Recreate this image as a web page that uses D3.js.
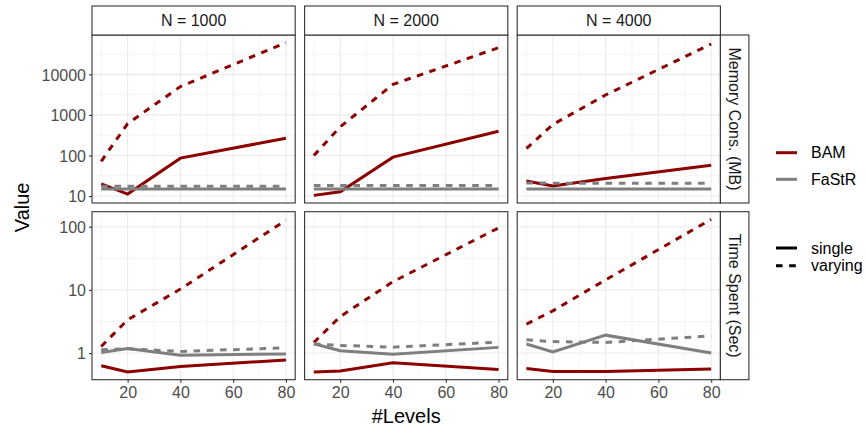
<!DOCTYPE html>
<html><head><meta charset="utf-8">
<script src="https://cdn.jsdelivr.net/npm/d3@7"></script>
<style>body{margin:0;background:#fff}svg{display:block}text{font-family:"Liberation Sans",Arial,sans-serif}</style>
</head><body><svg id="c" width="867" height="428"></svg>
<script>
// ---- data ----
const levels = [10, 20, 40, 80];
const sizes = ["N = 1000", "N = 2000", "N = 4000"];
const metrics = ["Memory Cons. (MB)", "Time Spent (Sec)"];
const methods = ["BAM", "FaStR"];
const modes = ["single", "varying"];
const xTicks = [20, 40, 60, 80];
const yTicksMemory = [10, 100, 1000, 10000];
const yTicksTime = [1, 10, 100];

// memory (MB), one array per N
const memBamSingle   = [[20, 11.2, 86, 266], [10.4, 12.8, 91, 395], [23.6, 17.8, 27, 57.5]];
const memBamVarying  = [[72, 611, 5000, 60500], [100, 508, 5660, 45400], [149, 580, 3100, 56000]];
const memFastrSingle = [[15, 15, 15, 15], [15, 15, 15, 15], [15, 15, 15, 15]];
const memFastrVarying= [[17.5, 17.5, 17.5, 17.5], [18.3, 18.3, 18.3, 18.3], [21, 20.8, 20.8, 20.8]];
// time (sec)
const timeBamSingle   = [[0.63, 0.50, 0.615, 0.776], [0.50, 0.52, 0.70, 0.55], [0.57, 0.51, 0.51, 0.56]];
const timeBamVarying  = [[1.27, 3.36, 10.3, 127], [1.47, 3.78, 13.5, 96], [2.87, 4.66, 14.4, 131]];
const timeFastrSingle = [[1.02, 1.18, 0.92, 0.97], [1.40, 1.09, 0.96, 1.23], [1.39, 1.04, 1.92, 1.0]];
const timeFastrVarying= [[1.13, 1.17, 1.06, 1.21], [1.40, 1.32, 1.24, 1.49], [1.62, 1.52, 1.47, 1.87]];

const seriesByMetric = [
  {BAM: {single: memBamSingle, varying: memBamVarying}, FaStR: {single: memFastrSingle, varying: memFastrVarying}},
  {BAM: {single: timeBamSingle, varying: timeBamVarying}, FaStR: {single: timeFastrSingle, varying: timeFastrVarying}}
];
const yTicksByMetric = [yTicksMemory, yTicksTime];

// ---- style / layout ----
const colors = {BAM: "#8B0000", FaStR: "#7F7F7F"};
const dash = {single: null, varying: "6.6,6.6"};
const lw = 3;
const panelLeft = 92, panelW = 203.2, colGap = 9.4;
const panelTop = 35, panelH = 168, rowGap = 8.7;
const stripH = 29, stripW = 28.5;
const border = "#333333", grid = "#EBEBEB";

const svg = d3.select("#c");

const x = d3.scaleLinear().domain([6.5, 83.5]);

function yScaleFor(m) {
  const all = [];
  methods.forEach(me => modes.forEach(mo => seriesByMetric[m][me][mo].forEach(a => a.forEach(v => all.push(Math.log10(v))))));
  const lo = d3.min(all), hi = d3.max(all), pad = (hi - lo) * 0.05;
  return d3.scaleLog().domain([Math.pow(10, lo - pad), Math.pow(10, hi + pad)]);
}

metrics.forEach((metric, r) => {
  const top = panelTop + r * (panelH + rowGap);
  const y = yScaleFor(r).range([top + panelH, top]);
  const [dlo, dhi] = y.domain().map(Math.log10);
  const majors = yTicksByMetric[r];
  const minors = [];
  for (let k = Math.floor(dlo) - 1; k <= Math.ceil(dhi) + 1; k++) {
    const v = k + 0.5;
    if (v > dlo && v < dhi) minors.push(Math.pow(10, v));
  }

  sizes.forEach((sz, c) => {
    const left = panelLeft + c * (panelW + colGap);
    x.range([left, left + panelW]);
    const g = svg.append("g");
    g.append("rect").attr("x", left).attr("y", top).attr("width", panelW).attr("height", panelH).attr("fill", "#fff");
    // minor grid
    g.selectAll(null).data(minors).join("line")
      .attr("x1", left).attr("x2", left + panelW).attr("y1", d => y(d)).attr("y2", d => y(d))
      .attr("stroke", grid).attr("stroke-width", 0.55);
    g.selectAll(null).data([10, 30, 50, 70]).join("line")
      .attr("y1", top).attr("y2", top + panelH).attr("x1", d => x(d)).attr("x2", d => x(d))
      .attr("stroke", grid).attr("stroke-width", 0.55);
    // major grid
    g.selectAll(null).data(majors).join("line")
      .attr("x1", left).attr("x2", left + panelW).attr("y1", d => y(d)).attr("y2", d => y(d))
      .attr("stroke", grid).attr("stroke-width", 1.1);
    g.selectAll(null).data(xTicks).join("line")
      .attr("y1", top).attr("y2", top + panelH).attr("x1", d => x(d)).attr("x2", d => x(d))
      .attr("stroke", grid).attr("stroke-width", 1.1);

    // lines
    const line = d3.line().x((d, i) => x(levels[i])).y(d => y(d));
    methods.forEach(me => modes.forEach(mo => {
      g.append("path").datum(seriesByMetric[r][me][mo][c])
        .attr("d", line).attr("fill", "none")
        .attr("stroke", colors[me]).attr("stroke-width", lw)
        .attr("stroke-dasharray", dash[mo]);
    }));

    g.append("rect").attr("x", left).attr("y", top).attr("width", panelW).attr("height", panelH)
      .attr("fill", "none").attr("stroke", border).attr("stroke-width", 1.1);

    // y axis on first column
    if (c === 0) {
      const ya = d3.axisLeft(y).tickValues(majors).tickFormat(d3.format("d")).tickSize(3).tickPadding(3);
      const ag = svg.append("g").attr("transform", `translate(${left},0)`).call(ya);
      ag.select(".domain").remove();
      ag.selectAll(".tick line").attr("stroke", border).attr("stroke-width", 1.1);
      ag.selectAll(".tick text").attr("fill", "#4D4D4D").style("font-size", "16px").attr("dy", "0.36em");
    }
    // x axis on bottom row
    if (r === metrics.length - 1) {
      const xa = d3.axisBottom(x).tickValues(xTicks).tickSize(3).tickPadding(3);
      const ag = svg.append("g").attr("transform", `translate(0,${top + panelH})`).call(xa);
      ag.select(".domain").remove();
      ag.selectAll(".tick line").attr("stroke", border).attr("stroke-width", 1.1);
      ag.selectAll(".tick text").attr("fill", "#4D4D4D").style("font-size", "16px").attr("dy", "0.75em");
    }
    // top strips
    if (r === 0) {
      svg.append("rect").attr("x", left).attr("y", top - stripH).attr("width", panelW).attr("height", stripH)
        .attr("fill", "#fff").attr("stroke", border).attr("stroke-width", 1.1);
      svg.append("text").attr("x", left + panelW / 2).attr("y", top - stripH / 2).attr("dy", "0.36em")
        .attr("text-anchor", "middle").attr("fill", "#1A1A1A").style("font-size", "16px").text(sz);
    }
  });

  // right strip
  const sx = panelLeft + 3 * panelW + 2 * colGap;
  svg.append("rect").attr("x", sx).attr("y", top).attr("width", stripW).attr("height", panelH)
    .attr("fill", "#fff").attr("stroke", border).attr("stroke-width", 1.1);
  svg.append("text").attr("transform", `translate(${sx + stripW / 2},${top + panelH / 2}) rotate(90)`)
    .attr("dy", "0.36em").attr("text-anchor", "middle").attr("fill", "#1A1A1A").style("font-size", "16px").text(metric);
});

// axis titles
const plotL = panelLeft, plotR = panelLeft + 3 * panelW + 2 * colGap;
svg.append("text").attr("x", (plotL + plotR) / 2).attr("y", 422.7).attr("text-anchor", "middle")
  .style("font-size", "20px").attr("fill", "#000").text("#Levels");
svg.append("text").attr("transform", `translate(22,${panelTop + panelH + rowGap / 2}) rotate(-90)`)
  .attr("dy", "0.36em").attr("text-anchor", "middle").style("font-size", "20px").attr("fill", "#000").text("Value");

// legends
const legX = 776, legKeyW = 21, legTextX = 811;
const colorLegY = [152.7, 179.3];
methods.forEach((me, i) => {
  svg.append("line").attr("x1", legX).attr("x2", legX + legKeyW).attr("y1", colorLegY[i]).attr("y2", colorLegY[i])
    .attr("stroke", colors[me]).attr("stroke-width", lw);
  svg.append("text").attr("x", legTextX).attr("y", colorLegY[i]).attr("dy", "0.36em")
    .style("font-size", "16px").attr("fill", "#000").text(me);
});
const typeLegY = [248, 265.7];
modes.forEach((mo, i) => {
  svg.append("line").attr("x1", legX).attr("x2", legX + legKeyW).attr("y1", typeLegY[i]).attr("y2", typeLegY[i])
    .attr("stroke", "#000").attr("stroke-width", lw).attr("stroke-dasharray", dash[mo]);
  svg.append("text").attr("x", legTextX).attr("y", typeLegY[i]).attr("dy", "0.36em")
    .style("font-size", "16px").attr("fill", "#000").text(mo);
});
</script></body></html>
